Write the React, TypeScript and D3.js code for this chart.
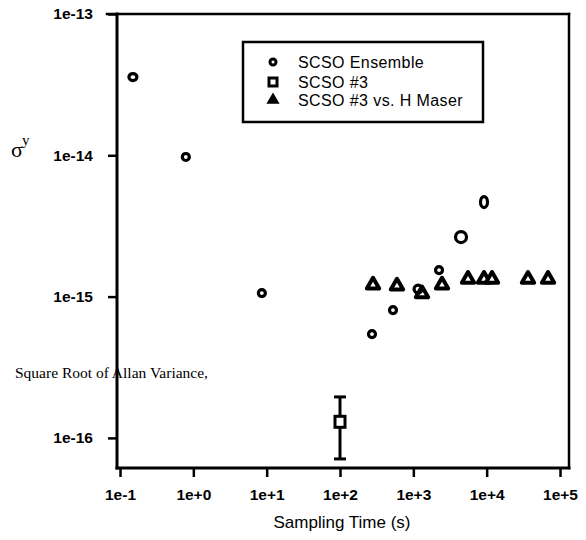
import React, { useEffect, useRef } from 'react';
import * as d3 from 'd3';

// axis ticks
const xTicks = [1e-1, 1e0, 1e1, 1e2, 1e3, 1e4, 1e5];
const xTickLabels = ['1e-1', '1e+0', '1e+1', '1e+2', '1e+3', '1e+4', '1e+5'];
const yTicks = [1e-13, 1e-14, 1e-15, 1e-16];
const yTickLabels = ['1e-13', '1e-14', '1e-15', '1e-16'];

// SCSO Ensemble
const ensembleTau = [0.15, 0.79, 8.6, 273, 528, 1160, 2240, 4470, 9200];
const ensembleSigma = [3.58e-14, 9.73e-15, 1.06e-15, 5.43e-16, 8.03e-16, 1.13e-15, 1.54e-15, 2.64e-15, 4.67e-15];

// SCSO #3 with error bar
const scso3Tau = [100];
const scso3Sigma = [1.3e-16];
const scso3Low = [7.1e-17];
const scso3High = [1.95e-16];

// SCSO #3 vs. H Maser
const maserTau = [282, 598, 1313, 2460, 5570, 9200, 11830, 36600, 68700];
const maserSigma = [1.21e-15, 1.19e-15, 1.05e-15, 1.21e-15, 1.33e-15, 1.33e-15, 1.33e-15, 1.33e-15, 1.33e-15];

const legendLabels = ['SCSO Ensemble', 'SCSO #3', 'SCSO #3 vs. H Maser'];

// marker radii for the ensemble (scanned markers vary a bit)
const ensembleRx = [4, 3.5, 3.5, 3.5, 3.5, 4, 3.5, 5.5, 3.5];
const ensembleRy = [3.5, 3.5, 3.5, 3.5, 3.5, 4, 3.5, 5.5, 5.5];

const SANS = "'Liberation Sans', Arial, sans-serif";
const SERIF = "'Liberation Serif', 'Times New Roman', serif";

const App = () => {
    const svgRef = useRef(null);

    useEffect(() => {
        const left = 117, right = 569, top = 14, bottom = 468;

        const x = d3.scaleLog().domain([1e-1, 1e5]).range([120, 560]);
        const y = d3.scaleLog().domain([Math.pow(10, -16.213), 1e-13]).range([bottom, top]);

        const svg = d3.select(svgRef.current);
        svg.selectAll('*').remove();

        svg.append('rect').attr('width', 586).attr('height', 540).attr('fill', '#fff');

        // x axis
        const xAxis = svg.append('g')
            .attr('transform', `translate(0,${bottom})`)
            .call(d3.axisBottom(x)
                .tickValues(xTicks)
                .tickFormat((d, i) => xTickLabels[i])
                .tickSizeInner(9)
                .tickSizeOuter(0)
                .tickPadding(12));
        xAxis.select('.domain').remove();
        xAxis.selectAll('line').attr('stroke', '#000').attr('stroke-width', 2.5);
        xAxis.selectAll('text')
            .attr('fill', '#000')
            .style('font-family', SANS)
            .style('font-size', '15.5px')
            .style('font-weight', 'bold');

        // y axis
        const yAxis = svg.append('g')
            .attr('transform', `translate(${left},0)`)
            .call(d3.axisLeft(y)
                .tickValues(yTicks)
                .tickFormat((d, i) => yTickLabels[i])
                .tickSizeInner(9)
                .tickSizeOuter(0)
                .tickPadding(15));
        yAxis.select('.domain').remove();
        yAxis.selectAll('line').attr('stroke', '#000').attr('stroke-width', 2.5);
        yAxis.selectAll('text')
            .attr('fill', '#000')
            .style('font-family', SANS)
            .style('font-size', '15.5px')
            .style('font-weight', 'bold');

        // frame
        const frame = svg.append('g').attr('stroke', '#000').attr('stroke-linecap', 'square');
        frame.append('line').attr('x1', 107).attr('x2', right).attr('y1', top).attr('y2', top).attr('stroke-width', 2.5);
        frame.append('line').attr('x1', left).attr('x2', left).attr('y1', top).attr('y2', bottom).attr('stroke-width', 3);
        frame.append('line').attr('x1', left).attr('x2', right).attr('y1', bottom).attr('y2', bottom).attr('stroke-width', 3);
        frame.append('line').attr('x1', right).attr('x2', right).attr('y1', top).attr('y2', bottom).attr('stroke-width', 2.5);

        // axis titles
        svg.append('text')
            .attr('x', 342)
            .attr('y', 528)
            .attr('text-anchor', 'middle')
            .style('font-family', SANS)
            .style('font-size', '17px')
            .text('Sampling Time (s)');

        svg.append('text')
            .attr('x', 15)
            .attr('y', 378)
            .style('font-family', SERIF)
            .style('font-size', '15.5px')
            .text('Square Root of Allan Variance,');

        svg.append('text')
            .attr('x', 11)
            .attr('y', 157)
            .style('font-family', SERIF)
            .style('font-size', '22px')
            .text('σ');
        svg.append('text')
            .attr('x', 22)
            .attr('y', 145)
            .style('font-family', SERIF)
            .style('font-size', '15px')
            .text('y');

        const plot = svg.append('g');

        // SCSO #3 vs. H Maser triangles
        const tri = d3.symbol().type(d3.symbolTriangle).size(66);
        plot.selectAll('.tri')
            .data(maserTau)
            .enter()
            .append('path')
            .attr('class', 'tri')
            .attr('d', tri)
            .attr('transform', (d, i) => `translate(${x(d)},${y(maserSigma[i])})`)
            .attr('fill', '#fff')
            .attr('stroke', '#000')
            .attr('stroke-width', 4)
            .attr('stroke-linejoin', 'round');

        // SCSO Ensemble circles
        plot.selectAll('.ens')
            .data(ensembleTau)
            .enter()
            .append('ellipse')
            .attr('class', 'ens')
            .attr('cx', d => x(d))
            .attr('cy', (d, i) => y(ensembleSigma[i]))
            .attr('rx', (d, i) => ensembleRx[i])
            .attr('ry', (d, i) => ensembleRy[i])
            .attr('fill', 'none')
            .attr('stroke', '#000')
            .attr('stroke-width', 3.2);

        // SCSO #3 square with error bar
        scso3Tau.forEach((t, i) => {
            const cx = x(t);
            plot.append('line')
                .attr('x1', cx).attr('x2', cx)
                .attr('y1', y(scso3High[i])).attr('y2', y(scso3Low[i]))
                .attr('stroke', '#000').attr('stroke-width', 3);
            [scso3High[i], scso3Low[i]].forEach(v => {
                plot.append('line')
                    .attr('x1', cx - 6).attr('x2', cx + 6)
                    .attr('y1', y(v)).attr('y2', y(v))
                    .attr('stroke', '#000').attr('stroke-width', 3);
            });
            plot.append('rect')
                .attr('x', cx - 5).attr('y', y(scso3Sigma[i]) - 5.5)
                .attr('width', 10).attr('height', 11)
                .attr('fill', '#fff')
                .attr('stroke', '#000').attr('stroke-width', 3);
        });

        // legend
        const legend = svg.append('g');
        legend.append('rect')
            .attr('x', 243).attr('y', 42)
            .attr('width', 240).attr('height', 80)
            .attr('fill', '#fff')
            .attr('stroke', '#000').attr('stroke-width', 2.5);

        const rowY = [62, 82, 100];
        legend.append('circle')
            .attr('cx', 273).attr('cy', rowY[0]).attr('r', 3)
            .attr('fill', 'none').attr('stroke', '#000').attr('stroke-width', 3);
        legend.append('rect')
            .attr('x', 269).attr('y', rowY[1] - 4).attr('width', 8).attr('height', 8)
            .attr('fill', '#fff').attr('stroke', '#000').attr('stroke-width', 3);
        legend.append('path')
            .attr('d', d3.symbol().type(d3.symbolTriangle).size(48)())
            .attr('transform', `translate(273,${rowY[2]})`)
            .attr('fill', '#000').attr('stroke', '#000').attr('stroke-width', 1.5);

        legend.selectAll('.lbl')
            .data(legendLabels)
            .enter()
            .append('text')
            .attr('class', 'lbl')
            .attr('x', 298)
            .attr('y', (d, i) => rowY[i] + 6)
            .style('font-family', SANS)
            .style('font-size', '16px')
            .style('letter-spacing', '0.4px')
            .text(d => d);
    }, []);

    return (
        <svg
            ref={svgRef}
            width={586}
            height={540}
            style={{ position: 'absolute', left: 0, top: 0, display: 'block' }}
        ></svg>
    );
};

export default App;
